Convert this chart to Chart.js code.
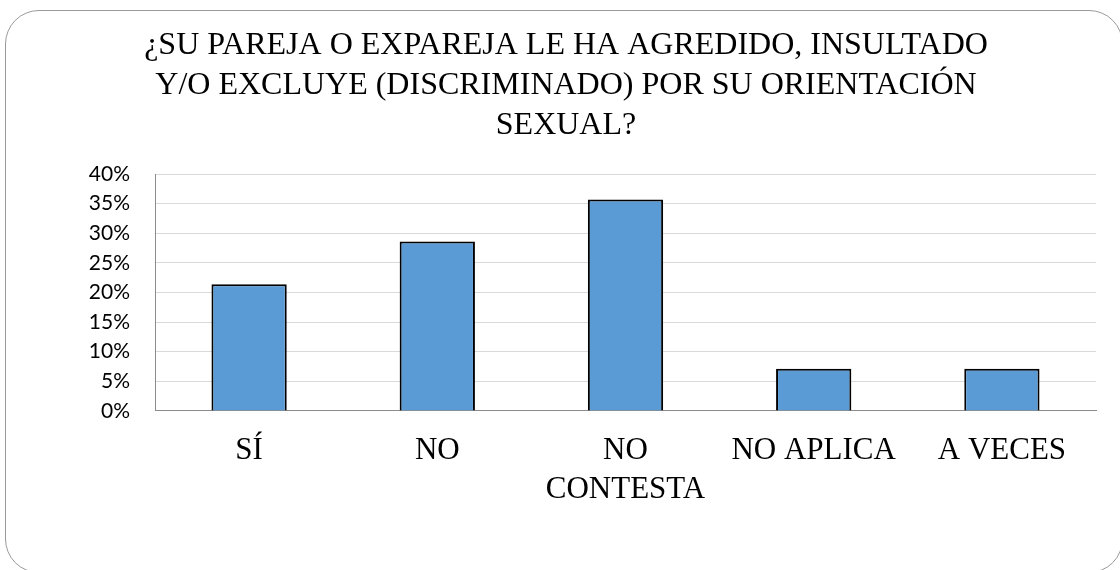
<!DOCTYPE html>
<html><head><meta charset="utf-8">
<script src="https://cdn.jsdelivr.net/npm/chart.js@4"></script>
<style>
html,body{margin:0;padding:0;background:#fff;}
#wrap{position:relative;width:1120px;height:570px;overflow:hidden;}
#frame{position:absolute;left:5px;top:10px;width:1118px;height:563px;border:1.5px solid #9a9a9a;border-radius:34px;box-sizing:border-box;}
canvas{position:absolute;left:0;top:0;}
</style></head>
<body><div id="wrap"><div id="frame"></div><canvas id="c" width="1120" height="570"></canvas></div>
<script>
const titleLines = ["¿SU PAREJA O EXPAREJA LE HA AGREDIDO, INSULTADO","Y/O EXCLUYE (DISCRIMINADO) POR SU ORIENTACIÓN","SEXUAL?"];
const categories = ["SÍ","NO",["NO","CONTESTA"],"NO APLICA","A VECES"];
const values = [21.4, 28.6, 35.7, 7.1, 7.1];
const yTicks = [0,5,10,15,20,25,30,35,40];

new Chart(document.getElementById('c'), {
  type: 'bar',
  data: { labels: categories, datasets: [{ data: values, backgroundColor: '#5B9BD5', borderColor: '#000000', borderWidth: 2, barPercentage: 0.4, categoryPercentage: 1.0 }] },
  options: {
    responsive: false, animation: false,
    layout: { padding: { left: 36, right: 24, top: 26, bottom: 49 } },
    plugins: {
      legend: { display: false }, tooltip: { enabled: false },
      title: { display: true, text: titleLines, color: '#000', font: { family: 'Liberation Serif', size: 32, weight: 'normal', lineHeight: 1.25 }, padding: { top: 0, bottom: 28 } }
    },
    scales: {
      x: {
        grid: { display: false },
        border: { display: true, color: '#8c8c8c', width: 1 },
        ticks: { color: '#000', font: { family: 'Liberation Serif', size: 31, lineHeight: 1.26 }, padding: 12, maxRotation: 0, autoSkip: false }
      },
      y: {
        min: 0, max: 40,
        afterFit: s => { s.width = 119; },
        afterBuildTicks: s => { s.ticks = yTicks.map(v => ({ value: v })); },
        grid: { color: '#d9d9d9', lineWidth: 1, drawTicks: false },
        border: { display: true, color: '#8c8c8c', width: 1 },
        ticks: { color: '#000', font: { family: 'Lato', size: 21 }, padding: 25, callback: v => v + '%' }
      }
    }
  }
});
</script></body></html>
